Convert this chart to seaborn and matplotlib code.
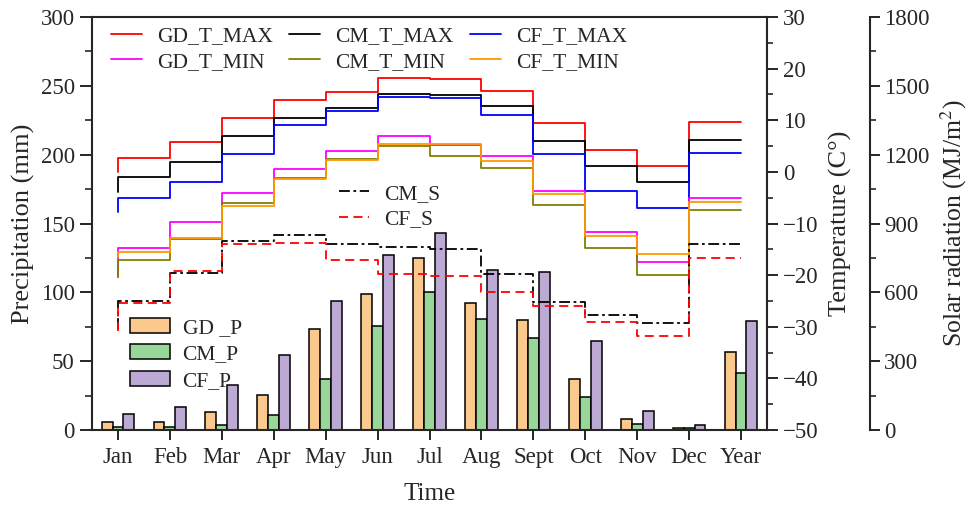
import numpy as np
import pandas as pd
import matplotlib
matplotlib.use('Agg')
import matplotlib.pyplot as plt
from matplotlib.patches import Patch
from matplotlib.lines import Line2D
from matplotlib.ticker import MultipleLocator
import seaborn as sns

# ---------------- data ----------------
months = ['Jan', 'Feb', 'Mar', 'Apr', 'May', 'Jun', 'Jul', 'Aug', 'Sept', 'Oct', 'Nov', 'Dec', 'Year']

# precipitation (mm)
gd_p = [5.8, 5.8, 12.9, 25.7, 73.1, 98.6, 125.2, 92.6, 80.0, 37.2, 8.1, 1.2, 56.7]
cm_p = [2.0, 2.0, 4.0, 11.2, 37.0, 75.6, 100.0, 80.7, 66.5, 24.0, 4.5, 1.7, 41.1]
cf_p = [11.7, 17.0, 32.6, 54.6, 93.8, 127.0, 143.3, 116.3, 114.7, 64.9, 13.7, 3.9, 79.5]

# temperature (C)
gd_tmax = [-0.1, 2.6, 5.7, 10.4, 13.9, 15.4, 18.1, 18.0, 15.7, 9.4, 4.3, 1.2, 9.6]
cm_tmax = [-3.9, -1.0, 2.0, 6.9, 10.4, 12.3, 15.1, 14.8, 12.7, 6.0, 1.2, -1.9, 6.2]
cf_tmax = [-7.7, -5.1, -1.9, 3.4, 9.1, 11.7, 14.6, 14.4, 11.0, 3.4, -3.7, -7.0, 3.6]
gd_tmin = [-20.3, -14.7, -9.7, -4.0, 0.5, 4.1, 6.9, 5.2, 3.0, -3.7, -11.7, -17.5, -5.0]
cm_tmin = [-20.3, -17.1, -13.0, -6.1, -1.2, 2.5, 5.0, 3.1, 0.7, -6.5, -14.7, -19.9, -7.4]
cf_tmin = [-16.5, -15.5, -12.9, -6.7, -1.4, 2.3, 5.4, 5.4, 2.1, -4.3, -12.4, -16.0, -5.8]

# solar radiation (MJ/m2)
cm_s = [440, 561, 685, 823, 848, 809, 799, 787, 682, 557, 500, 466, 812]
cf_s = [430, 552, 692, 809, 813, 739, 678, 673, 602, 542, 471, 408, 751]

bar_names = ['GD _P', 'CM_P', 'CF_P']
bar_colors = ['#FBC98E', '#98D69A', '#BDAAD4']

TICK_FS = 16.5
LAB_FS = 19
LEG_FS = 15.5

sns.set_theme(style='ticks')
plt.rcParams['font.family'] = ['Liberation Serif', 'DejaVu Serif']
plt.rcParams['mathtext.fontset'] = 'stix'
plt.rcParams['axes.linewidth'] = 1.5

fig = plt.figure(figsize=(9.72, 5.08), dpi=100)
ax = fig.add_axes([0.0947, 0.1535, 0.6944, 0.813])

# ---------------- bars (precipitation) ----------------
prec = pd.DataFrame({'Time': months * 3,
                     'P': gd_p + cm_p + cf_p,
                     'site': [n for n in bar_names for _ in months]})
sns.barplot(data=prec, x='Time', y='P', hue='site', order=months, hue_order=bar_names,
            palette=bar_colors, saturation=1, width=0.63, edgecolor='black',
            linewidth=1.1, legend=False, ax=ax)

ax.set_xlim(-0.5, 12.5)
ax.set_ylim(0, 300)
ax.yaxis.set_major_locator(MultipleLocator(50))
ax.yaxis.set_minor_locator(MultipleLocator(25))
ax.set_xticks(range(len(months)))
ax.set_xticklabels(months)
ax.set_ylabel('Precipitation (mm)', fontsize=LAB_FS, labelpad=4)
ax.set_xlabel('Time', fontsize=18, labelpad=11)
ax.tick_params(axis='y', which='major', direction='out', length=9, width=1.4, labelsize=TICK_FS)
ax.tick_params(axis='x', which='major', direction='out', length=7, width=1.4, labelsize=TICK_FS, pad=5)
ax.tick_params(axis='y', which='minor', direction='out', length=5, width=1.2)
ax.tick_params(axis='x', which='minor', length=0)
ax.spines['right'].set_visible(False)

xpos = np.arange(len(months))

# ---------------- temperature step lines ----------------
ax_t = ax.twinx()
temp_series = [('GD_T_MAX', gd_tmax, '#FF0000'), ('CM_T_MAX', cm_tmax, '#000000'),
               ('CF_T_MAX', cf_tmax, '#0000FF'), ('GD_T_MIN', gd_tmin, '#FF00FF'),
               ('CM_T_MIN', cm_tmin, '#808000'), ('CF_T_MIN', cf_tmin, '#FF9900')]
for name, vals, col in temp_series:
    sns.lineplot(x=xpos, y=vals, ax=ax_t, color=col, lw=1.3, drawstyle='steps-pre',
                 legend=False)
ax_t.set_ylim(-50, 30)
ax_t.yaxis.set_major_locator(MultipleLocator(10))
ax_t.yaxis.set_minor_locator(MultipleLocator(5))
ax_t.set_ylabel('Temperature (C°)', fontsize=LAB_FS, labelpad=7)
ax_t.tick_params(axis='y', which='major', direction='out', length=8, width=1.4, labelsize=TICK_FS)
ax_t.tick_params(axis='y', which='minor', direction='out', length=4.5, width=1.2)
for s in ['left', 'top', 'bottom']:
    ax_t.spines[s].set_visible(False)

# ---------------- solar radiation step lines ----------------
ax_s = ax.twinx()
ax_s.spines['right'].set_position(('axes', 1.152))
sns.lineplot(x=xpos, y=cm_s, ax=ax_s, color='#000000', lw=1.3, drawstyle='steps-pre',
             dashes=False, legend=False, linestyle=(0, (6, 2, 1.5, 2)))
sns.lineplot(x=xpos, y=cf_s, ax=ax_s, color='#FF0000', lw=1.3, drawstyle='steps-pre',
             dashes=False, legend=False, linestyle=(0, (5, 3)))
ax_s.set_ylim(0, 1800)
ax_s.yaxis.set_major_locator(MultipleLocator(300))
ax_s.yaxis.set_minor_locator(MultipleLocator(150))
ax_s.set_ylabel('Solar radiation (MJ/m$^2$)', fontsize=18.5, labelpad=6)
ax_s.tick_params(axis='y', which='major', direction='out', length=7, width=1.4, labelsize=TICK_FS)
ax_s.tick_params(axis='y', which='minor', direction='out', length=4, width=1.2)
for s in ['left', 'top', 'bottom']:
    ax_s.spines[s].set_visible(False)

# ---------------- legends ----------------
order = [0, 3, 1, 4, 2, 5]
h_temp = [Line2D([], [], color=temp_series[i][2], lw=1.3) for i in order]
l_temp = [temp_series[i][0] for i in order]
leg1 = ax_s.legend(h_temp, l_temp, ncol=3, loc='upper left', bbox_to_anchor=(0.028, 0.978),
                   frameon=False, fontsize=LEG_FS, handlelength=1.45, handletextpad=0.7,
                   columnspacing=0.75, labelspacing=0.25, borderpad=0, borderaxespad=0)
ax_s.add_artist(leg1)

h_sol = [Line2D([], [], color='#000000', lw=1.3, linestyle=(0, (6, 2, 1.5, 2))),
         Line2D([], [], color='#FF0000', lw=1.3, linestyle=(0, (5, 3)))]
leg2 = ax_s.legend(h_sol, ['CM_S', 'CF_S'], loc='upper left', bbox_to_anchor=(0.366, 0.596),
                   frameon=False, fontsize=LEG_FS, handlelength=1.4, handletextpad=0.7,
                   labelspacing=0.25, borderpad=0, borderaxespad=0)
ax_s.add_artist(leg2)

h_bar = [Patch(facecolor=c, edgecolor='black', lw=1.1) for c in bar_colors]
ax_s.legend(h_bar, bar_names, loc='upper left', bbox_to_anchor=(0.056, 0.272),
            frameon=False, fontsize=LEG_FS, handlelength=1.85, handleheight=0.7,
            handletextpad=0.6, labelspacing=0.3, borderpad=0, borderaxespad=0)

fig.savefig('out.png', dpi=100)
